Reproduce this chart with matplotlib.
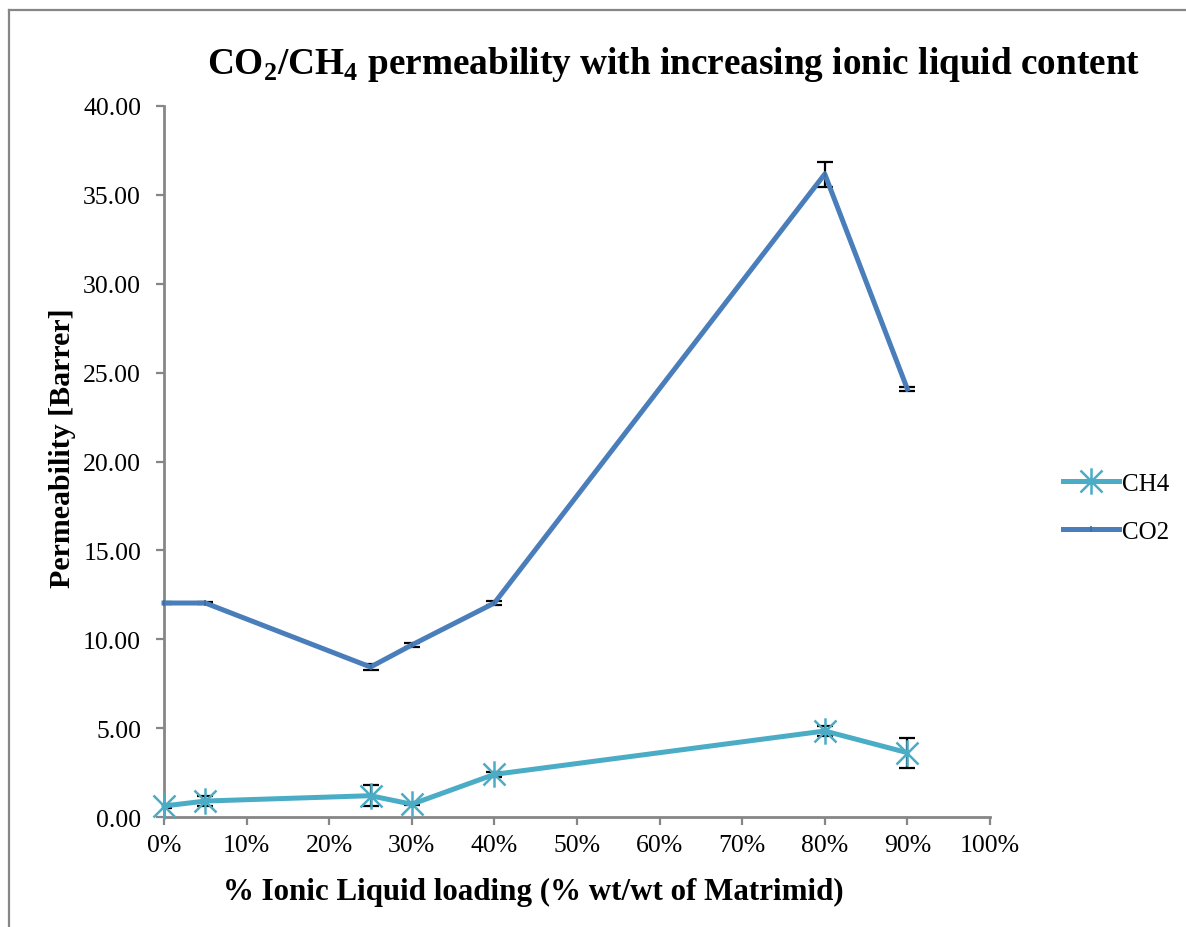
import matplotlib
matplotlib.use("Agg")
import matplotlib.pyplot as plt
from matplotlib.path import Path
from matplotlib.lines import Line2D
from matplotlib.ticker import FuncFormatter

plt.rcParams["font.family"] = ["Liberation Serif", "DejaVu Serif"]
plt.rcParams["mathtext.fontset"] = "custom"
plt.rcParams["mathtext.rm"] = "Liberation Serif:bold"

# IL loading as a fraction of Matrimid (wt/wt)
loading = [0.00, 0.05, 0.25, 0.30, 0.40, 0.80, 0.90]

ch4_perm = [0.62, 0.90, 1.20, 0.72, 2.40, 4.84, 3.62]
ch4_err = [0.10, 0.30, 0.60, 0.05, 0.15, 0.30, 0.85]

co2_perm = [12.04, 12.04, 8.44, 9.68, 12.04, 36.17, 24.08]
co2_err = [0.05, 0.05, 0.15, 0.10, 0.10, 0.70, 0.10]

y_ticks = [0, 5, 10, 15, 20, 25, 30, 35, 40]
x_ticks = [0.0, 0.1, 0.2, 0.3, 0.4, 0.5, 0.6, 0.7, 0.8, 0.9, 1.0]

CH4_COLOR = "#4BACC6"
CO2_COLOR = "#4A7EBB"
AXIS_GRAY = "#868686"

# asterisk marker: an X crossed by a vertical bar
star = Path(
    [(-1, -1), (1, 1), (-1, 1), (1, -1), (0, -1.2), (0, 1.2)],
    [Path.MOVETO, Path.LINETO, Path.MOVETO, Path.LINETO, Path.MOVETO, Path.LINETO],
)

fig = plt.figure(figsize=(11.86, 9.28), dpi=100)
ax = fig.add_axes([0.1383, 0.1185, 0.6964, 0.7662])

ax.errorbar(loading, ch4_perm, yerr=ch4_err, fmt="none", ecolor="black",
            elinewidth=1.6, capsize=6, capthick=1.6, zorder=2)
ax.errorbar(loading, co2_perm, yerr=co2_err, fmt="none", ecolor="black",
            elinewidth=1.6, capsize=6, capthick=1.6, zorder=2)

ax.plot(loading, ch4_perm, color=CH4_COLOR, lw=3.6, marker=star,
        markersize=19, markeredgewidth=1.8, markeredgecolor=CH4_COLOR,
        label="CH4", zorder=3, clip_on=False)
ax.plot(loading, co2_perm, color=CO2_COLOR, lw=3.6, marker="|",
        markersize=4, markeredgewidth=1.2, markeredgecolor="#3F6DA5",
        label="CO2", zorder=3, clip_on=False)

ax.set_xlim(0, 1)
ax.set_ylim(0, 40)
ax.set_xticks(x_ticks)
ax.set_yticks(y_ticks)
ax.xaxis.set_major_formatter(FuncFormatter(lambda v, _: f"{v * 100:.0f}%"))
ax.yaxis.set_major_formatter(FuncFormatter(lambda v, _: f"{v:.2f}"))

for side in ("top", "right"):
    ax.spines[side].set_visible(False)
for side in ("left", "bottom"):
    ax.spines[side].set_color(AXIS_GRAY)
    ax.spines[side].set_linewidth(2.0)

ax.tick_params(axis="both", direction="out", length=5.5, width=1.6,
               color=AXIS_GRAY, labelsize=18.5, labelcolor="black")
ax.tick_params(axis="y", pad=11)
ax.tick_params(axis="x", pad=7)

ax.set_xlabel("% Ionic Liquid loading (% wt/wt of Matrimid)", fontsize=22.3,
              fontweight="bold")
ax.set_ylabel("Permeability [Barrer]", fontsize=21.5, fontweight="bold")
ax.xaxis.set_label_coords(0.447, -0.084)
ax.yaxis.set_label_coords(-0.107, 0.52)

fig.text(0.568, 0.931,
         r"CO$_\mathregular{2}$/CH$_\mathregular{4}$ permeability with increasing ionic liquid content",
         ha="center", va="center", fontsize=26.8, fontweight="bold")

ax.legend(loc="center left", bbox_to_anchor=(0.888, 0.452),
          bbox_transform=fig.transFigure, frameon=False, fontsize=18,
          handlelength=2.24, handletextpad=0.12, labelspacing=1.0,
          borderaxespad=0)

# chart area outline (only the top and left edges fall inside the canvas)
fig.add_artist(Line2D([9 / 1186, 1.0], [1 - 11 / 928, 1 - 11 / 928],
                      transform=fig.transFigure, color=AXIS_GRAY, lw=1.6))
fig.add_artist(Line2D([9 / 1186, 9 / 1186], [0.0, 1 - 11 / 928],
                      transform=fig.transFigure, color=AXIS_GRAY, lw=1.6))

fig.savefig("out.png", dpi=100)
plt.close(fig)
